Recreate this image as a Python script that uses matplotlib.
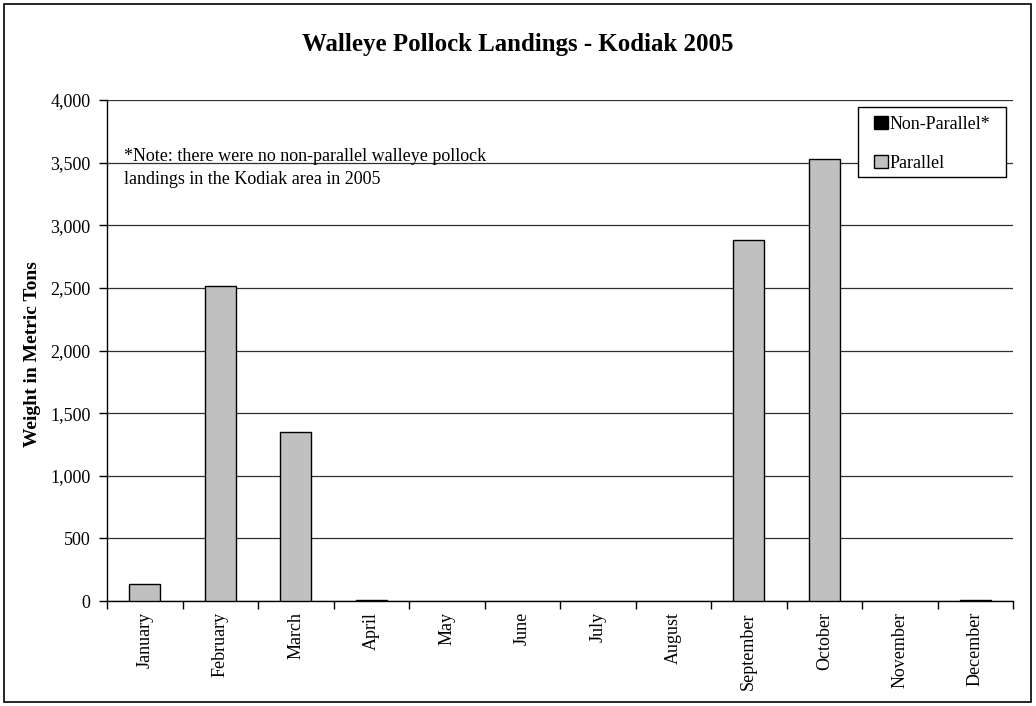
import matplotlib
matplotlib.use("Agg")
import matplotlib.pyplot as plt
from matplotlib.patches import Rectangle, Patch
from matplotlib.ticker import FuncFormatter, MultipleLocator
import numpy as np

months = ["January", "February", "March", "April", "May", "June", "July",
          "August", "September", "October", "November", "December"]
non_parallel = [0, 0, 0, 0, 0, 0, 0, 0, 0, 0, 0, 0]
parallel = [133, 2515, 1350, 8, 0, 0, 0, 0, 2880, 3530, 0, 8]

title = "Walleye Pollock Landings - Kodiak 2005"
ylabel = "Weight in Metric Tons"
note = "*Note: there were no non-parallel walleye pollock\nlandings in the Kodiak area in 2005"

plt.rcParams['font.family'] = ['Liberation Serif', 'DejaVu Serif']

fig = plt.figure(figsize=(10.36, 7.06), dpi=100)
W, H = 1036, 706
ax = fig.add_axes([107 / W, 1 - 601 / H, (1013 - 107) / W, (601 - 100) / H])

x = np.arange(len(months))
bw = 0.41
lw_par = [1.0 if v > 0 else 0 for v in parallel]
ax.bar(x, parallel, width=bw, color="#c0c0c0", edgecolor="black", linewidth=lw_par,
       label="Parallel", zorder=3)
ax.bar(x, non_parallel, width=bw, color="black", edgecolor="black", linewidth=0,
       label="Non-Parallel*", zorder=3)

ax.set_xlim(-0.5, len(months) - 0.5)
ax.set_ylim(0, 4000)
ax.yaxis.set_major_locator(MultipleLocator(500))
ax.yaxis.set_major_formatter(FuncFormatter(lambda v, p: f"{int(v):,}"))
ax.grid(axis="y", color="#303030", linewidth=0.9, zorder=0)

ax.set_xticks(x)
ax.set_xticklabels(months, rotation=90, fontsize=13)
ax.set_xticks(np.arange(-0.5, len(months)), minor=True)
ax.tick_params(axis="x", which="major", length=0, pad=8)
ax.tick_params(axis="x", which="minor", length=6, direction="out", width=1)
ax.tick_params(axis="y", length=6, direction="out", width=1, labelsize=13, pad=6)

for s in ax.spines.values():
    s.set_linewidth(1.0)
    s.set_color("black")
ax.spines["top"].set_visible(False)
ax.spines["right"].set_visible(False)

fig.text(518 / W, 1 - 44 / H, title, ha="center", va="center",
         fontsize=17.9, fontweight="bold")
fig.text(33 / W, 1 - 354 / H, ylabel, ha="center", va="center", rotation=90,
         fontsize=14, fontweight="bold")
fig.text(124 / W, 1 - 168 / H, note, ha="left", va="center", fontsize=13,
         linespacing=1.4)

# legend frame
fig.patches.append(Rectangle((858 / W, 1 - 177 / H), (1006 - 858) / W, 70 / H,
                             transform=fig.transFigure, facecolor="white",
                             edgecolor="black", linewidth=1.0, zorder=5))
handles = [Patch(facecolor="black", edgecolor="black", linewidth=1.0),
           Patch(facecolor="#c0c0c0", edgecolor="black", linewidth=1.0)]
leg = fig.legend(handles, ["Non-Parallel*", "Parallel"],
                 loc="upper left", bbox_to_anchor=(874 / W, 1 - 116 / H),
                 frameon=False, fontsize=13,
                 handlelength=0.75, handleheight=0.72, handletextpad=0.12,
                 labelspacing=1.2, borderpad=0, borderaxespad=0)
leg.set_zorder(6)

fig.patches.append(Rectangle((4 / W, 4 / H), 1027 / W, 698 / H,
                             transform=fig.transFigure, fill=False,
                             edgecolor="black", linewidth=1.2))

fig.savefig("out.png", dpi=100)
